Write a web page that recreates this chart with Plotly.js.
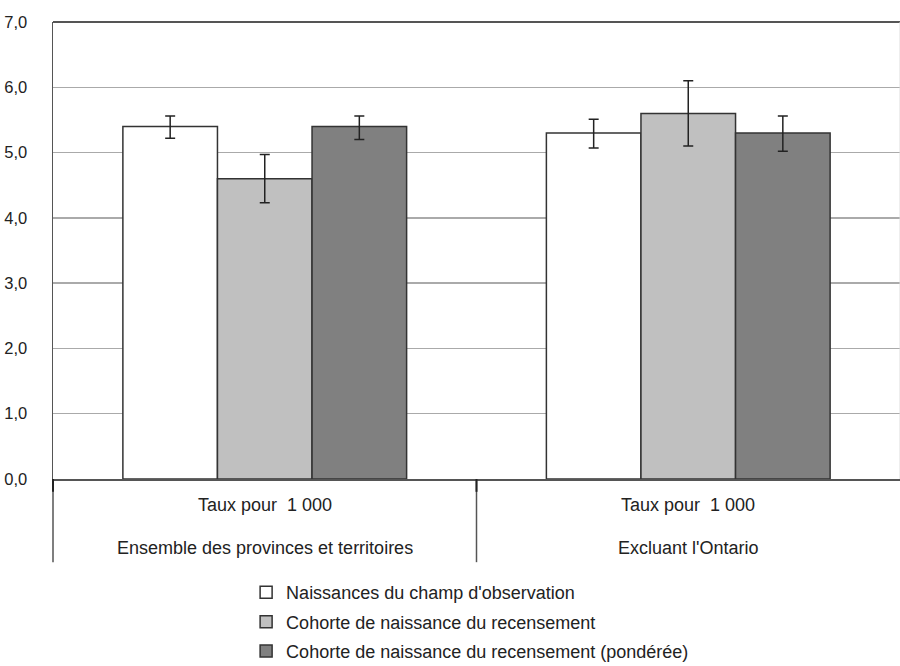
<!DOCTYPE html>
<html><head><meta charset="utf-8">
<script src="https://cdn.plot.ly/plotly-3.0.1.min.js"></script>
<style>html,body{margin:0;padding:0;background:#fff}#chart{width:900px;height:666px}</style>
</head><body><div id="chart"></div>
<script>
const categories = ["Ensemble des provinces et territoires", "Excluant l'Ontario"];
const rowLabel = "Taux pour  1 000";
const seriesNames = ["Naissances du champ d'observation", "Cohorte de naissance du recensement", "Cohorte de naissance du recensement (pondérée)"];
const valuesObs = [5.4, 5.3];
const valuesCohort = [4.6, 5.6];
const valuesWeighted = [5.4, 5.3];
const errUpObs = [0.16, 0.21];
const errDownObs = [0.18, 0.23];
const errUpCohort = [0.37, 0.5];
const errDownCohort = [0.37, 0.5];
const errUpWeighted = [0.16, 0.26];
const errDownWeighted = [0.2, 0.28];

const FONT = "'Liberation Sans', Arial, Helvetica, sans-serif";
const colors = ["#ffffff", "#c0c0c0", "#808080"];
const vals = [valuesObs, valuesCohort, valuesWeighted];
const ups = [errUpObs, errUpCohort, errUpWeighted];
const downs = [errDownObs, errDownCohort, errDownWeighted];

const traces = seriesNames.map((n, i) => ({
  type: 'bar', name: n, x: categories, y: vals[i],
  legendgroup: 'g' + i,
  marker: {color: colors[i], line: {color: '#333', width: 1.5}},
  error_y: {type: 'data', symmetric: false, array: ups[i], arrayminus: downs[i], color: '#222', thickness: 1.5, width: 5},
  hoverinfo: 'skip'
}));

const shapes = [
  {type: 'line', xref: 'paper', yref: 'paper', x0: 0, x1: 1, y0: 1, y1: 1, line: {color: '#555', width: 2}},
  {type: 'line', xref: 'paper', yref: 'paper', x0: 1, x1: 1, y0: 0, y1: 1, line: {color: '#ddd', width: 1}},
  {type: 'line', xref: 'paper', yref: 'paper', x0: 0, x1: 0, y0: 0, y1: -0.182, line: {color: '#555', width: 1.5}},
  {type: 'line', xref: 'x', yref: 'paper', x0: 0.5, x1: 0.5, y0: 0, y1: -0.182, line: {color: '#555', width: 1.5}},
  {type: 'line', xref: 'x', yref: 'paper', x0: 0.5, x1: 0.5, y0: 0, y1: -0.028, line: {color: '#222', width: 2}},
  {type: 'line', xref: 'paper', yref: 'paper', x0: 0, x1: 0, y0: 0, y1: -0.028, line: {color: '#222', width: 2}}
];

const annotations = [];
categories.forEach((c, i) => {
  annotations.push({xref: 'x', yref: 'paper', x: i, y: -0.057, text: rowLabel, showarrow: false, yanchor: 'middle', font: {family: FONT, size: 18, color: '#222'}});
  annotations.push({xref: 'x', yref: 'paper', x: i, y: -0.151, text: c, showarrow: false, yanchor: 'middle', font: {family: FONT, size: 18, color: '#222'}});
});

const layout = {
  width: 900, height: 666,
  margin: {l: 53, r: 0, t: 22, b: 187, autoexpand: false},
  paper_bgcolor: '#fff', plot_bgcolor: '#fff',
  barmode: 'group', bargap: 0.33, bargroupgap: 0,
  separators: ',.',
  font: {family: FONT, size: 18, color: '#222'},
  showlegend: true,
  legend: {x: 0.228, xanchor: 'left', y: -0.208, yanchor: 'top', orientation: 'v', traceorder: 'grouped', tracegroupgap: 3,
           font: {family: FONT, size: 18, color: '#222'}, bgcolor: 'rgba(0,0,0,0)', itemclick: false},
  xaxis: {showticklabels: false, showline: true, linecolor: '#555', linewidth: 2, showgrid: false, zeroline: false, ticks: '', fixedrange: true},
  yaxis: {range: [0, 7], dtick: 1, tickformat: '.1f', showgrid: true, gridcolor: '#aaa', gridwidth: 1.5,
          showline: true, linecolor: '#555', linewidth: 1.5, zeroline: false, ticks: '', ticklabelstandoff: 21,
          tickfont: {family: FONT, size: 16.5, color: '#222'}, fixedrange: true},
  shapes: shapes, annotations: annotations
};

Plotly.newPlot('chart', traces, layout, {displayModeBar: false, staticPlot: true});
</script></body></html>
